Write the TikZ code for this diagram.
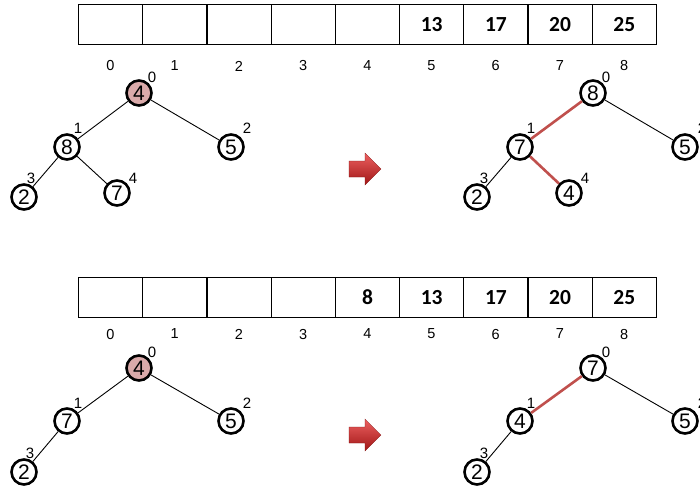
\documentclass[tikz,border=0pt]{standalone}
\usepackage{fontspec}
\setmainfont{Liberation Sans}
\newfontfamily\cellfont{Carlito}
\definecolor{swapred}{RGB}{192,80,77}
\definecolor{rootpink}{RGB}{218,170,170}
\definecolor{arrowlight}{RGB}{236,96,96}
\definecolor{arrowdark}{RGB}{160,22,22}
\begin{document}
\begin{tikzpicture}[x=1pt,y=-1pt,
  cell/.style={draw, line width=1.2pt, minimum width=64.2pt, minimum height=40pt,
    inner sep=0pt, anchor=north west, font=\cellfont\bfseries\fontsize{21.5}{21.5}\selectfont},
  idx/.style={font=\fontsize{14.5}{14.5}\selectfont, inner sep=0pt},
  hnode/.style={circle, draw, line width=2.6pt, minimum size=25pt, inner sep=0pt,
    font=\fontsize{21}{21}\selectfont},
  hroot/.style={hnode, fill=rootpink},
  tag/.style={font=\fontsize{15}{15}\selectfont, inner sep=0pt},
  edge/.style={line width=0.9pt},
  swapedge/.style={line width=2.6pt, swapred},
  bigarrow/.style={top color=arrowlight, bottom color=arrowdark, draw=arrowdark!80!black, line width=0.3pt}
]
\useasboundingbox (0,0) rectangle (700,488);

% ---------- upper array ----------
\foreach \v [count=\i from 0] in {,,,,,13,17,20,25}
  \node[cell] (ua\i) at ({78+64.2*\i},4) {\v};
\foreach \i in {0,...,8}
  \node[idx] (ui\i) at ({110.5+64.2*\i},66) {\i};

% ---------- upper left tree ----------
\node[hroot] (a0) at (139,93) {4};
\node[hnode] (a1) at (67,147) {8};
\node[hnode] (a2) at (231,147) {5};
\node[hnode] (a3) at (24,197) {2};
\node[hnode] (a4) at (117,193) {7};
\draw[edge] (a0) -- (a1);
\draw[edge] (a0) -- (a2);
\draw[edge] (a1) -- (a3);
\draw[edge] (a1) -- (a4);
\node[tag] (at0) at (152,77) {0};
\node[tag] (at1) at (78,128) {1};
\node[tag] (at2) at (247,128) {2};
\node[tag] (at3) at (31,178) {3};
\node[tag] (at4) at (133,178) {4};

% ---------- upper arrow ----------
\shade[bigarrow] (349,161) -- (365,161) -- (365,153) -- (381,169) -- (365,185)
  -- (365,177) -- (349,177) -- cycle;

% ---------- upper right tree ----------
\node[hnode] (b0) at (593,93) {8};
\node[hnode] (b1) at (520,147) {7};
\node[hnode] (b2) at (685,147) {5};
\node[hnode] (b3) at (477,197) {2};
\node[hnode] (b4) at (569,193) {4};
\draw[swapedge] (b0) -- (b1);
\draw[edge] (b0) -- (b2);
\draw[edge] (b1) -- (b3);
\draw[swapedge] (b1) -- (b4);
\node[tag] (bt0) at (606,77) {0};
\node[tag] (bt1) at (531,128) {1};
\node[tag] (bt2) at (702,128) {2};
\node[tag] (bt3) at (484,178) {3};
\node[tag] (bt4) at (585,178) {4};

% ---------- lower array ----------
\foreach \v [count=\i from 0] in {,,,,8,13,17,20,25}
  \node[cell] (la\i) at ({78+64.2*\i},277) {\v};
\foreach \i in {0,...,8}
  \node[idx] (li\i) at ({110.5+64.2*\i},334) {\i};

% ---------- lower left tree ----------
\node[hroot] (c0) at (139,368) {4};
\node[hnode] (c1) at (67,421) {7};
\node[hnode] (c2) at (231,421) {5};
\node[hnode] (c3) at (24,472) {2};
\draw[edge] (c0) -- (c1);
\draw[edge] (c0) -- (c2);
\draw[edge] (c1) -- (c3);
\node[tag] (ct0) at (152,352) {0};
\node[tag] (ct1) at (78,403) {1};
\node[tag] (ct2) at (247,403) {2};
\node[tag] (ct3) at (30,453) {3};

% ---------- lower arrow ----------
\shade[bigarrow] (349,427) -- (365,427) -- (365,419) -- (381,435) -- (365,451)
  -- (365,443) -- (349,443) -- cycle;

% ---------- lower right tree ----------
\node[hnode] (d0) at (593,368) {7};
\node[hnode] (d1) at (520,421) {4};
\node[hnode] (d2) at (685,421) {5};
\node[hnode] (d3) at (477,472) {2};
\draw[swapedge] (d0) -- (d1);
\draw[edge] (d0) -- (d2);
\draw[edge] (d1) -- (d3);
\node[tag] (dt0) at (606,352) {0};
\node[tag] (dt1) at (531,403) {1};
\node[tag] (dt2) at (702,403) {2};
\node[tag] (dt3) at (484,453) {3};
\end{tikzpicture}
\end{document}
